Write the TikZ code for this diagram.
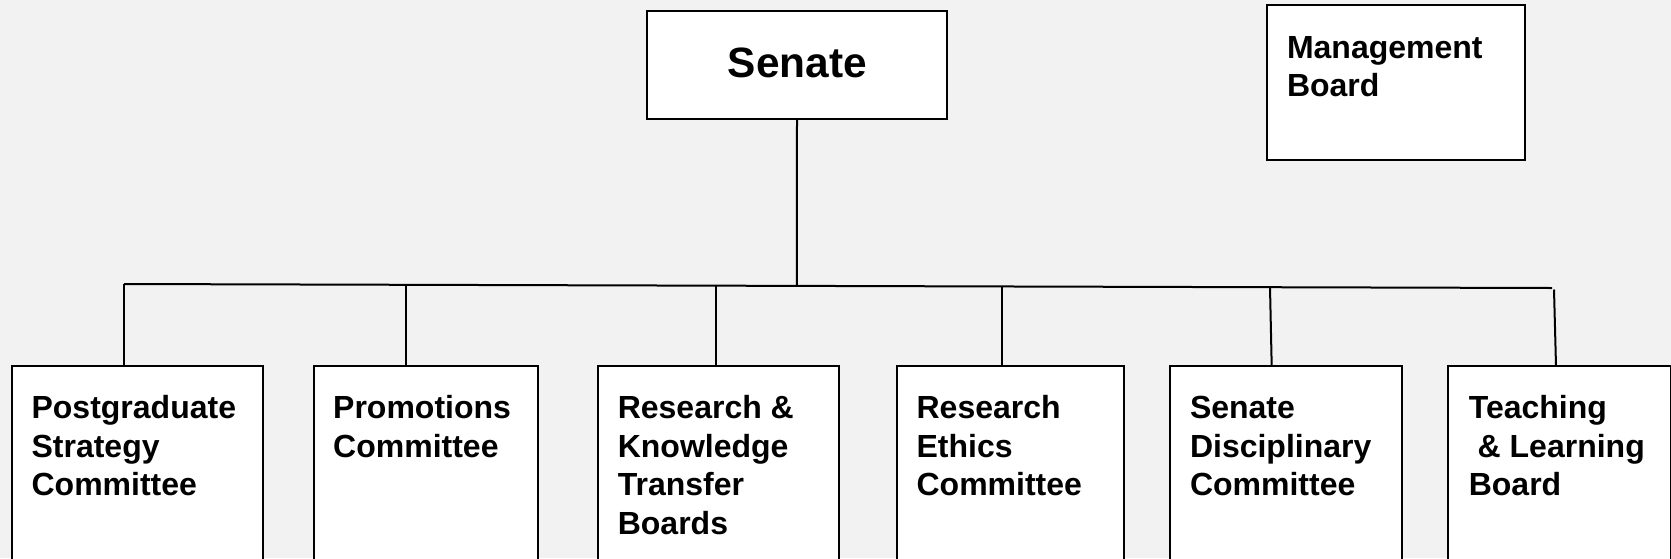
\documentclass[tikz,border=0pt]{standalone}
\usepackage{fontspec}
\setmainfont{Liberation Sans}
\definecolor{canvas}{HTML}{F2F2F2}
% left-aligned stack of lines whose baseline is the first line
\newcommand{\lines}[1]{\begin{tabular}[t]{@{}l@{}}#1\end{tabular}}

\begin{document}
\begin{tikzpicture}[x=0.5pt, y=-0.5pt, line width=1pt,
  box/.style={draw=black, fill=white, anchor=north west, inner sep=0pt, outer sep=0pt},
  unit/.style={box, minimum height=125pt},
  lbl/.style={anchor=base west, inner sep=0pt, font=\bfseries\fontsize{16}{19.35}\selectfont},
  link/.style={draw=black, line width=1pt}]

  % canvas
  \useasboundingbox (0,0) rectangle (1671,558);
  \fill[canvas] (0,0) rectangle (1671,558);
  \clip (0,0) rectangle (1671,558);

  % top level
  \node[box, minimum width=150.3pt, minimum height=54.15pt] (senate) at (646.7,10.7) {};
  \node[anchor=base, inner sep=0pt, font=\bfseries\fontsize{21.2}{25}\selectfont] (senateT) at (797.5,77) {Senate};

  \node[box, minimum width=129.15pt, minimum height=77.5pt] (mgmt) at (1266.7,5) {};
  \node[anchor=base west, inner sep=0pt, font=\bfseries\fontsize{16}{19.1}\selectfont] (mgmtT) at (1286,58.3) {\lines{Management\\Board}};

  % committees and boards
  \node[unit, minimum width=125.7pt] (b1) at (11.8,366) {};
  \node[unit, minimum width=112.3pt] (b2) at (313.6,366) {};
  \node[unit, minimum width=120.6pt] (b3) at (598.2,366) {};
  \node[unit, minimum width=113.75pt] (b4) at (896.8,366) {};
  \node[unit, minimum width=116.1pt] (b5) at (1170.1,366) {};
  \node[unit, minimum width=111.1pt] (b6) at (1448.3,366) {};

  \node[lbl] (t1) at (30.6,418.3) {\lines{Postgraduate\\Strategy\\Committee}};
  \node[lbl] (t2) at (332.2,418.3) {\lines{Promotions\\Committee}};
  \node[lbl] (t3) at (616.8,418.3) {\lines{Research \&\\Knowledge\\Transfer\\Boards}};
  \node[lbl] (t4) at (915.6,418.3) {\lines{Research\\Ethics\\Committee}};
  \node[lbl] (t5) at (1189,418.3) {\lines{Senate\\Disciplinary\\Committee}};
  \node[lbl] (t6) at (1467.8,418.3) {\lines{Teaching\\\ \& Learning\\Board}};

  % bus and its taps
  \coordinate (busL) at (124,284);
  \coordinate (busR) at (1552,288);
  \coordinate (hub) at (796.8,285.9);
  \coordinate (p1) at (124,284);
  \coordinate (p2) at (406,284.8);
  \coordinate (p3) at (716,285.7);
  \coordinate (p4) at (1002,286.5);
  \coordinate (p5) at (1270,287.2);
  \coordinate (p6) at (1554,289.5);
  \coordinate (q5) at (1271.7,366);
  \coordinate (q6) at (1556,366);

  \draw[link] (senate.south) -- (hub);
  \draw[link] (busL) -- (busR);
  \draw[link] (p1) -- (b1.north -| p1);
  \draw[link] (p2) -- (b2.north -| p2);
  \draw[link] (p3) -- (b3.north -| p3);
  \draw[link] (p4) -- (b4.north -| p4);
  \draw[link] (p5) -- (q5);
  \draw[link] (p6) -- (q6);
\end{tikzpicture}
\end{document}
